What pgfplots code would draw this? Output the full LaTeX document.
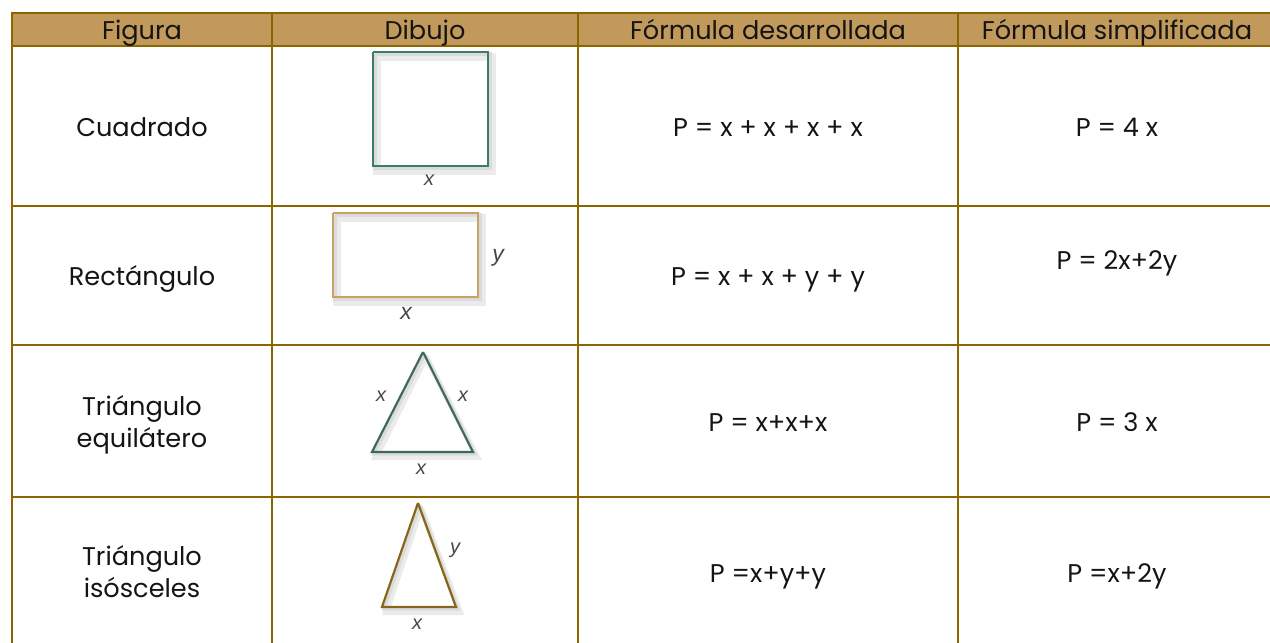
\documentclass[border=0pt]{standalone}
\usepackage{pgfplots}
\pgfplotsset{compat=1.18}
\usepackage{fontspec}
\setmainfont{Poppins}
\newfontfamily\lblfont{Liberation Sans}
\definecolor{hdr}{HTML}{C19A5B}
\definecolor{rule}{HTML}{8C6400}
\definecolor{sqgreen}{HTML}{3D7D62}
\definecolor{recttan}{HTML}{C8A165}
\definecolor{trigreen}{HTML}{3B6B57}
\definecolor{isobrown}{HTML}{87661A}
\tikzset{
  cell/.style={font=\fontsize{12.8}{15}\selectfont, text=black!92, inner sep=0pt, anchor=base},
  lbl/.style={font=\lblfont\itshape\fontsize{10}{12}\selectfont, text=black!72},
  lblbig/.style={font=\lblfont\itshape\fontsize{11.5}{13}\selectfont, text=black!72},
}
\begin{document}
\begin{tikzpicture}
\begin{axis}[
  width=635pt, height=321.5pt, scale only axis,
  xmin=0, xmax=1270, ymin=0, ymax=643, y dir=reverse,
  hide axis, clip=true,
]
% bounding
\addplot[draw=none] coordinates {(0,0) (1270,643)};
% header fill
\addplot[fill=hdr, draw=none] coordinates {(12,13) (1272,13) (1272,46) (12,46)} -- cycle;
% soft shadows of figures
\addplot[draw=black!8, line width=4pt] coordinates {(377,57) (492,57) (492,171) (377,171) (377,57)};
\addplot[draw=black!8, line width=4pt] coordinates {(337,218) (482,218) (482,302) (337,302) (337,218)};
\addplot[draw=black!8, line width=3pt] coordinates {(426,357) (477,457) (376,457) (426,357)};
\addplot[draw=black!8, line width=3pt] coordinates {(421,508) (460,612) (386,612) (421,508)};
\addplot[draw=black!14, line width=1.8pt] coordinates {(375,54) (490,54) (490,168) (375,168) (375,54)};
\addplot[draw=black!14, line width=1.8pt] coordinates {(335,215) (480,215) (480,299) (335,299) (335,215)};
\addplot[draw=black!14, line width=1.6pt] coordinates {(425,354) (475,454) (374,454) (425,354)};
\addplot[draw=black!14, line width=1.6pt] coordinates {(420,505) (458,609) (384,609) (420,505)};
% figures
\addplot[draw=sqgreen, line width=1pt] coordinates {(373,52) (488,52) (488,166) (373,166) (373,52)};
\addplot[draw=recttan, line width=1.2pt] coordinates {(333,213) (478,213) (478,297) (333,297) (333,213)};
\addplot[draw=trigreen, line width=1.1pt, line join=miter] coordinates {(423,352) (473,452) (372,452) (423,352)};
\addplot[draw=isobrown, line width=1.1pt, line join=miter] coordinates {(418,503) (456,607) (382,607) (418,503)};
% horizontal rules
\addplot[draw=rule, line width=1.4pt] coordinates {(12,13) (1272,13)};
\addplot[draw=rule, line width=1.4pt] coordinates {(12,46) (1272,46)};
\addplot[draw=rule, line width=1.4pt] coordinates {(12,206) (1272,206)};
\addplot[draw=rule, line width=1.4pt] coordinates {(12,345) (1272,345)};
\addplot[draw=rule, line width=1.4pt] coordinates {(12,497) (1272,497)};
% vertical rules
\addplot[draw=rule, line width=1.4pt] coordinates {(12,12.3) (12,645)};
\addplot[draw=rule, line width=1.4pt] coordinates {(272,12.3) (272,645)};
\addplot[draw=rule, line width=1.4pt] coordinates {(578,12.3) (578,645)};
\addplot[draw=rule, line width=1.4pt] coordinates {(958,12.3) (958,645)};
% header texts
\node[cell] at (axis cs:142,39) {Figura};
\node[cell] at (axis cs:425,39) {Dibujo};
\node[cell] at (axis cs:768,39) {Fórmula desarrollada};
\node[cell] at (axis cs:1117,39) {Fórmula simplificada};
% column 1
\node[cell] at (axis cs:142,136) {Cuadrado};
\node[cell] at (axis cs:142,285) {Rectángulo};
\node[cell] at (axis cs:142,415) {Triángulo};
\node[cell] at (axis cs:142,447) {equilátero};
\node[cell] at (axis cs:142,565) {Triángulo};
\node[cell] at (axis cs:142,597) {isósceles};
% column 3
\node[cell] at (axis cs:768,136) {P = x + x + x + x};
\node[cell] at (axis cs:768,285) {P = x + x + y + y};
\node[cell] at (axis cs:768,431) {P = x+x+x};
\node[cell] at (axis cs:768,582) {P =x+y+y};
% column 4
\node[cell] at (axis cs:1117,136) {P = 4 x};
\node[cell] at (axis cs:1117,269) {P = 2x+2y};
\node[cell] at (axis cs:1117,431) {P = 3 x};
\node[cell] at (axis cs:1117,582) {P =x+2y};
% figure labels
\node[lbl] at (axis cs:429,180) {x};
\node[lblbig] at (axis cs:498,258) {y};
\node[lblbig] at (axis cs:406,313) {x};
\node[lbl] at (axis cs:381,396) {x};
\node[lbl] at (axis cs:463,396) {x};
\node[lbl] at (axis cs:421,469) {x};
\node[lbl] at (axis cs:455,550) {y};
\node[lbl] at (axis cs:417,624) {x};
\end{axis}
\end{tikzpicture}
\end{document}
